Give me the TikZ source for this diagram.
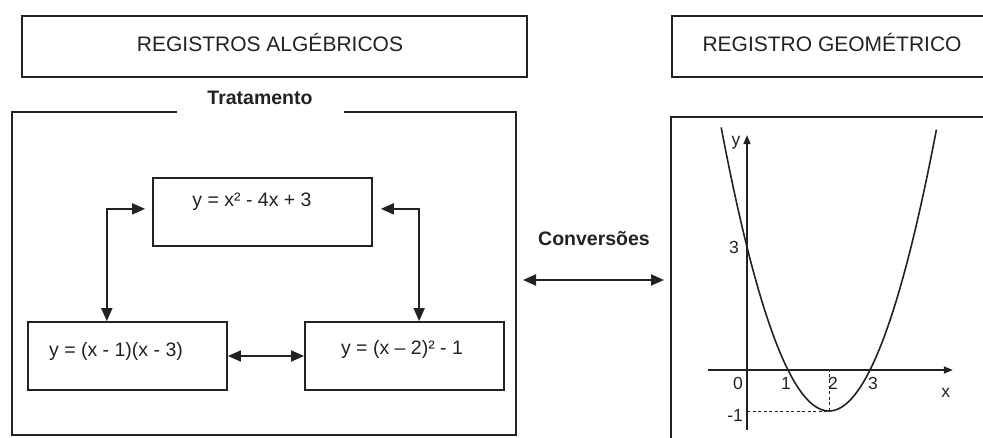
\documentclass[tikz,border=0pt]{standalone}
\usepackage{fontspec}
\setmainfont{Liberation Sans}
\usetikzlibrary{arrows.meta,calc}

\definecolor{ink}{HTML}{222222}

\tikzset{
  frameline/.style={draw=ink, line width=1.8pt},
  titlebox/.style={draw=ink, line width=1.8pt, minimum height=61pt, inner sep=0pt},
  titletext/.style={font=\fontsize{21}{24}\selectfont, text=ink},
  eqbox/.style={draw=ink, line width=1.8pt, minimum height=68pt, inner sep=0pt},
  eqtext/.style={font=\fontsize{19.5}{22}\selectfont, text=ink},
  boldlabel/.style={font=\bfseries\fontsize{19.5}{22}\selectfont, text=ink},
  link/.style={draw=ink, line width=1.8pt,
    {Triangle[length=13pt,width=11pt]}-{Triangle[length=13pt,width=11pt]}},
  axisline/.style={draw=ink, line width=1.5pt, -{Triangle[length=9pt,width=7pt]}},
  graphtext/.style={font=\fontsize{17.5}{20}\selectfont, text=ink},
}

\begin{document}
\begin{tikzpicture}[x=1pt, y=-1pt]
  \useasboundingbox (0,0) rectangle (983,438);
  \clip (0,0) rectangle (983,438);

  % headings
  \node[titlebox, minimum width=505pt] (algtitle) at (274.5,46.5) {};
  \node[titletext] (algtitletext) at (270,43) {REGISTROS ALGÉBRICOS};
  \node[titlebox, minimum width=320pt] (geotitle) at (832,46.5) {};
  \node[titletext] (geotitletext) at (832,43) {REGISTRO GEOMÉTRICO};

  % algebraic frame with its label set into the top border
  \node[boldlabel] (trat) at (260,98) {Tratamento};
  \draw[frameline] (177,112) -- (12,112) -- (12,435) -- (516,435) -- (516,112) -- (344,112);

  % geometric frame (runs off the page to the right and bottom)
  \draw[frameline] (995,117) -- (671,117) -- (671,450);

  % equation boxes
  \node[eqbox, minimum width=219pt] (eqtop) at (262.5,212) {};
  \node[eqtext] at (252,202) {y = x² - 4x + 3};
  \node[eqbox, minimum width=199pt] (eqleft) at (127.5,356) {};
  \node[eqtext] at (116,351) {y = (x - 1)(x - 3)};
  \node[eqbox, minimum width=199pt] (eqright) at (404.5,356) {};
  \node[eqtext] at (402,349) {y = (x – 2)² - 1};

  % treatment connectors
  \draw[link] ($(eqtop.north west)!0.455!(eqtop.south west)+(-7,0)$)
      -| ($(eqleft.north west)!0.397!(eqleft.north east)$);
  \draw[link] ($(eqtop.north east)!0.455!(eqtop.south east)+(8,0)$)
      -| ($(eqright.north west)!0.573!(eqright.north east)$);
  \draw[link] (eqleft.east) -- (eqright.west);

  % conversion between the two registers
  \node[boldlabel] (conv) at (594,239) {Conversões};
  \coordinate (convL) at (523,280);
  \coordinate (convR) at (664,280);
  \draw[link] (convL) -- (convR);

  % graph of y = x^2 - 4x + 3
  \begin{scope}[xshift=747pt, yshift=-370pt, x=41pt, y=41pt]
    \coordinate (origin) at (0,0);
    \draw[axisline] (-0.95,0) -- (5.02,0);
    \draw[axisline] (0,-1.46) -- (0,5.73);
    \draw[ink, line width=1pt, dashed, dash pattern=on 3pt off 2.5pt] (0,-1) -- (2,-1) -- (2,0);
    \draw[ink, line width=1.6pt, smooth, samples=80, domain=-0.63:4.62]
      plot (\x, {\x*\x-4*\x+3});
    \node[graphtext] at (-0.27,5.54) {y};
    \node[graphtext] at (-0.32,3.0) {3};
    \node[graphtext] at (-0.22,-0.32) {0};
    \node[graphtext] at (0.95,-0.32) {1};
    \node[graphtext] at (2.1,-0.32) {2};
    \node[graphtext] at (3.07,-0.32) {3};
    \node[graphtext] at (4.85,-0.56) {x};
    \node[graphtext] at (-0.29,-1.1) {-1};
  \end{scope}
\end{tikzpicture}
\end{document}
